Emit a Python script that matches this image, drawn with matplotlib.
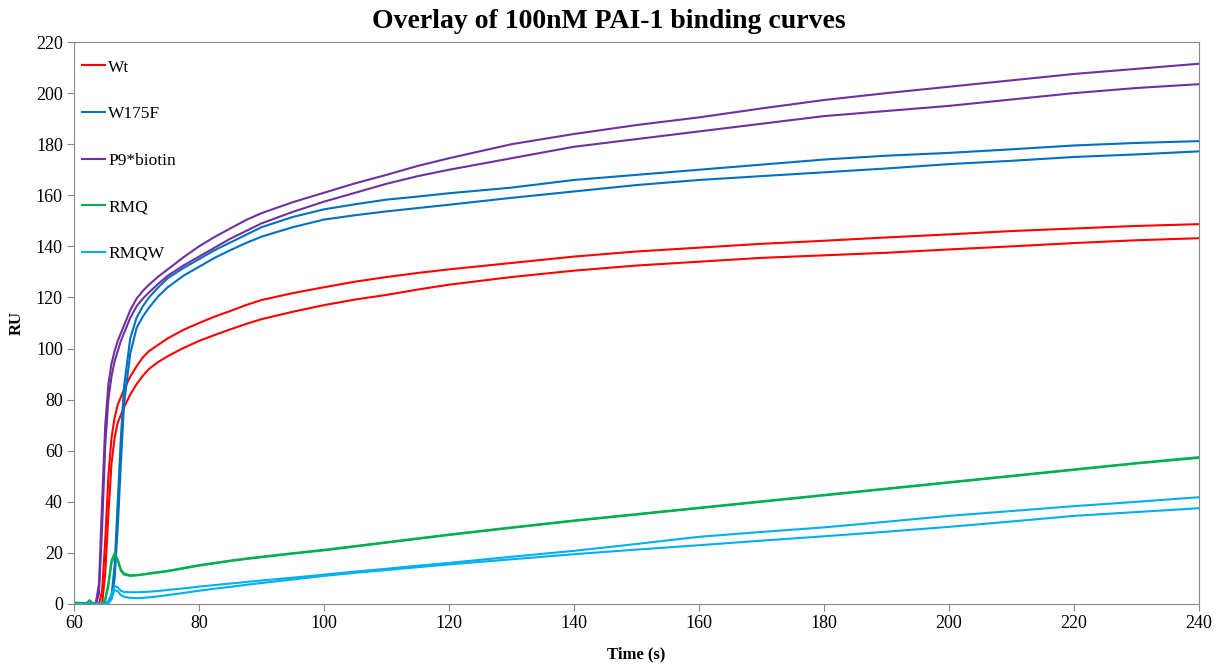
import numpy as np
import matplotlib
matplotlib.use("Agg")
from matplotlib import pyplot as plt

plt.rcParams['font.family'] = ['Liberation Serif', 'DejaVu Serif']

# time points (s)
time_s = [60, 61, 62, 62.5, 63, 63.5, 64, 64.5, 65, 65.5, 66, 66.5, 67, 67.5, 68,
          69, 70, 71, 72, 73.5, 75, 77.5, 80, 82.5, 85, 87.5, 90,
          95, 100, 105, 110, 115, 120,
          130, 140, 150, 160, 170, 180, 190, 200, 210, 220, 230, 240]

# two replicates per sample, RU
wt_1 = [0, 0, 0, 0, 0, 0, 0, 5, 25, 50, 65, 73, 78, 81, 84,
        89, 93, 96.5, 99, 101.5, 104, 107.3, 110, 112.5, 114.7, 117, 119,
        121.7, 124, 126.2, 128, 129.6, 131,
        133.5, 136, 138, 139.5, 141, 142.2, 143.5, 144.7, 146, 147, 148, 148.7]
wt_2 = [0, 0, 0, 0, 0, 0, 0, 0, 12, 35, 55, 65, 71, 74, 77,
        82, 86, 89.3, 92, 94.8, 97, 100.2, 103, 105.3, 107.5, 109.6, 111.5,
        114.4, 117, 119.2, 121, 123.1, 125,
        128, 130.5, 132.5, 134, 135.5, 136.5, 137.5, 138.8, 140, 141.3, 142.4, 143.2]
w175f_1 = [0, 0, 0, 0, 0, 0, 0, 0, 0.5, 1, 3, 15, 40, 65, 85,
           104, 112, 116.5, 120, 124, 127.5, 131.5, 135, 138.5, 141.5, 144.5, 147.5,
           151.5, 154.5, 156.5, 158.3, 159.5, 160.8,
           163, 166, 168, 170, 172, 174, 175.5, 176.6, 178, 179.5, 180.5, 181.2]
w175f_2 = [0, 0, 0, 0, 0, 0, 0, 0, 0, 0.5, 2, 10, 30, 55, 78,
           98, 108, 112.5, 116, 120.5, 124, 128.5, 132, 135.5, 138.5, 141.3, 143.8,
           147.5, 150.5, 152.2, 153.7, 155, 156.3,
           159, 161.5, 164, 166, 167.5, 169, 170.5, 172.2, 173.5, 175, 176, 177.2]
p9_1 = [0, 0, 0, 0, 0, 0.5, 8, 40, 70, 86, 94, 99, 103, 106, 109,
        115, 119.5, 122.5, 125, 128.2, 131, 135.7, 140, 143.7, 147, 150.3, 153,
        157.3, 161, 164.7, 168, 171.5, 174.5,
        180, 184, 187.5, 190.5, 194, 197.3, 200, 202.5, 205, 207.5, 209.5, 211.5]
p9_2 = [0, 0, 0, 0, 0, 0, 4, 30, 62, 80, 89, 95, 99, 103, 106,
        112, 116.5, 119.5, 122, 125.4, 128.5, 132.5, 136, 139.5, 143, 146, 149,
        153.5, 157.5, 161, 164.5, 167.5, 170,
        174.5, 179, 182, 185, 188, 191, 193, 195, 197.5, 200, 202, 203.5]
rmq_1 = [0.5, 0.4, 0.3, 1.5, 0.3, 0, 0, 0, 2, 8, 17, 20, 17, 13, 11.5,
         11, 11.2, 11.5, 11.8, 12.3, 12.8, 13.9, 15, 15.9, 16.8, 17.6, 18.3,
         19.7, 21, 22.5, 24, 25.5, 27,
         29.8, 32.5, 35, 37.5, 40, 42.5, 45, 47.5, 50, 52.5, 55, 57.2]
rmq_2 = [0.5, 0.4, 0.3, 1.2, 0.2, 0, 0, 0, 1.5, 7, 16, 19.5, 17.5, 13.5, 12,
         11.2, 11.3, 11.6, 12, 12.5, 13, 14.1, 15.2, 16.1, 17, 17.8, 18.5,
         19.9, 21.2, 22.7, 24.2, 25.7, 27.2,
         30, 32.7, 35.2, 37.7, 40.2, 42.7, 45.2, 47.7, 50.2, 52.7, 55.2, 57.5]
rmqw_1 = [0, 0, 0, 0, 0, 0, 0, 0, 0, 1, 4, 7, 6.5, 5.2, 4.7,
          4.6, 4.6, 4.7, 4.8, 5.1, 5.5, 6.1, 6.8, 7.4, 8, 8.6, 9.2,
          10.3, 11.5, 12.7, 13.8, 15, 16.1,
          18.5, 20.8, 23.5, 26.3, 28.2, 30, 32.2, 34.5, 36.4, 38.3, 40, 41.8]
rmqw_2 = [0, 0, 0, 0, 0, 0, 0, 0, 0, 0, 2, 5.5, 5, 3.5, 2.8,
          2.4, 2.3, 2.4, 2.6, 3, 3.5, 4.3, 5.2, 6, 6.7, 7.5, 8.2,
          9.6, 11, 12.2, 13.3, 14.4, 15.5,
          17.5, 19.5, 21.3, 23, 24.8, 26.5, 28.3, 30.2, 32.3, 34.5, 36, 37.5]

names = ["Wt", "W175F", "P9*biotin", "RMQ", "RMQW"]
colors = ["#FF0000", "#0070C0", "#7030A0", "#00B050", "#00B0F0"]
reps = [(wt_1, wt_2), (w175f_1, w175f_2), (p9_1, p9_2), (rmq_1, rmq_2), (rmqw_1, rmqw_2)]

fig = plt.figure(figsize=(12.25, 6.66), dpi=100)
ax = fig.add_axes([0.0604, 0.0931, 0.9184, 0.8438])

for name, col, (r1, r2) in zip(names, colors, reps):
    ax.plot(time_s, r1, color=col, lw=1.5, label=name)
    ax.plot(time_s, r2, color=col, lw=1.5)

ax.set_xlim(60, 240)
ax.set_ylim(0, 220)
ax.set_xticks(np.arange(60, 241, 20))
ax.set_yticks(np.arange(0, 221, 20))
ax.tick_params(direction='out', length=5, color='#888888', labelsize=13, pad=3)
for sp in ax.spines.values():
    sp.set_color('#888888')

ax.set_xlabel("Time (s)", fontsize=12, fontweight='bold', labelpad=10)
ax.set_ylabel("RU", fontsize=12, fontweight='bold', labelpad=8)
fig.suptitle("Overlay of 100nM PAI-1 binding curves", x=0.497, y=0.967, va='center',
             fontsize=20, fontweight='bold')

ax.legend(loc='upper left', bbox_to_anchor=(-0.008, 1.0), frameon=False, fontsize=12.5,
          handlelength=1.3, handletextpad=0.2, labelspacing=1.75, borderaxespad=0.6)

fig.savefig("out.png", dpi=100)
